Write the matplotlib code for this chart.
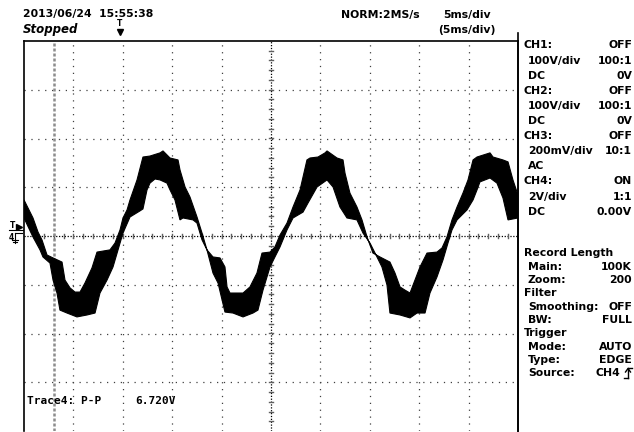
import matplotlib
matplotlib.use("Agg")
import matplotlib.pyplot as plt
from matplotlib.lines import Line2D
import numpy as np

# CH4 waveform: upper and lower edge of the noisy band
# time in ms (5 ms/div), voltage in V (2 V/div)
t_upper = [0.0, 0.91, 1.42, 1.82, 2.33, 2.94, 3.85, 4.15, 4.66, 5.16,
           5.67, 6.17, 6.88, 7.39, 8.70, 9.21, 9.72, 10.02, 10.43, 10.73,
           11.44, 12.04, 12.75, 13.77, 14.07, 14.78, 15.59, 15.79, 16.30, 16.80,
           17.51, 18.02, 18.52, 19.13, 19.84, 20.34, 20.55, 20.85, 22.17, 22.87,
           23.58, 24.09, 24.90, 25.40, 25.91, 26.62, 27.23, 27.94, 28.64, 28.95,
           29.76, 30.47, 30.67, 31.68, 32.29, 32.49, 32.99, 33.70, 34.21, 34.72,
           35.32, 36.03, 37.04, 37.55, 38.06, 38.56, 39.07, 39.57, 40.08, 40.79,
           41.80, 42.31, 42.81, 43.32, 43.83, 44.43, 44.94, 45.45, 45.85, 47.17,
           47.47, 48.48, 48.99, 49.49, 50.0]
v_upper = [1.48, 0.74, 0.16, -0.16, -0.78, -0.90, -1.07, -1.81, -2.13, -2.30,
           -2.30, -1.93, -1.31, -0.66, -0.57, -0.29, 0.25, 0.74, 1.07, 1.48,
           2.30, 3.24, 3.28, 3.41, 3.49, 3.20, 3.12, 2.71, 2.01, 1.60,
           0.78, 0.12, -0.57, -0.86, -0.90, -1.27, -2.09, -2.34, -2.34, -2.09,
           -1.52, -0.70, -0.66, -0.45, 0.04, 0.53, 1.19, 1.89, 3.12, 3.20,
           3.24, 3.41, 3.49, 3.20, 3.12, 2.58, 1.76, 1.19, 0.66, -0.04,
           -0.70, -0.86, -1.07, -1.52, -2.09, -2.22, -2.34, -1.81, -1.27, -0.70,
           -0.66, -0.49, -0.04, 0.66, 1.19, 1.76, 2.30, 3.12, 3.24, 3.41,
           3.24, 3.12, 3.04, 2.30, 1.68]
t_lower = [0.0, 0.91, 1.62, 1.92, 2.63, 2.94, 3.34, 3.64, 4.35, 5.36,
           6.38, 7.19, 7.69, 8.40, 9.01, 9.72, 10.02, 10.73, 11.74, 12.04,
           12.45, 12.75, 13.26, 13.77, 14.47, 14.78, 15.28, 15.79, 16.09, 17.11,
           17.51, 18.02, 18.52, 19.13, 19.64, 20.34, 21.15, 22.17, 23.18, 23.68,
           24.19, 24.90, 25.40, 25.91, 26.62, 27.23, 28.24, 28.74, 29.66, 30.67,
           31.28, 31.98, 32.69, 33.70, 34.31, 35.02, 35.53, 36.23, 36.74, 37.04,
           38.06, 39.07, 39.78, 40.59, 41.09, 41.80, 42.41, 42.91, 43.32, 43.83,
           44.84, 45.45, 45.85, 46.15, 47.17, 47.87, 48.48, 48.99, 50.0]
v_lower = [0.74, -0.04, -0.57, -0.86, -1.11, -1.81, -2.34, -3.04, -3.16, -3.32,
           -3.24, -3.16, -2.34, -1.81, -1.27, -0.29, 0.12, 0.78, 1.03, 1.11,
           1.89, 2.17, 2.34, 2.30, 2.17, 1.89, 1.48, 0.66, 0.74, 0.66,
           0.53, -0.16, -0.57, -1.52, -1.93, -3.12, -3.16, -3.32, -3.16, -3.04,
           -2.22, -1.27, -0.86, -0.45, 0.25, 0.74, 0.98, 1.35, 2.01, 2.30,
           2.01, 1.19, 0.74, 0.66, 0.12, -0.29, -0.70, -1.27, -2.01, -3.16,
           -3.24, -3.36, -3.16, -3.16, -2.34, -1.68, -0.98, -0.29, 0.25, 0.66,
           1.07, 1.48, 1.89, 2.22, 2.38, 2.17, 1.56, 0.66, 0.74]

cursor_t = 3.07  # vertical cursor position, ms

header_left = ["2013/06/24  15:55:38", "Stopped"]
header_right = ["NORM:2MS/s", "5ms/div", "(5ms/div)"]
measure_label = "Trace4: P-P"
measure_value = "6.720V"

# side panel: (label, value, is_heading)
panel_top = [("CH1:", "OFF", True), ("100V/div", "100:1", False), ("DC", "0V", False),
             ("CH2:", "OFF", True), ("100V/div", "100:1", False), ("DC", "0V", False),
             ("CH3:", "OFF", True), ("200mV/div", "10:1", False), ("AC", "", False),
             ("CH4:", "ON", True), ("2V/div", "1:1", False), ("DC", "0.00V", False)]
panel_bottom = [("Record Length", "", True), ("Main:", "100K", False), ("Zoom:", "200", False),
                ("Filter", "", True), ("Smoothing:", "OFF", False), ("BW:", "FULL", False),
                ("Trigger", "", True), ("Mode:", "AUTO", False), ("Type:", "EDGE", False),
                ("Source:", "CH4", False)]

W, H = 634, 432
fig = plt.figure(figsize=(W / 100, H / 100), dpi=100)
fig.patch.set_facecolor("white")


def fx(x):
    return x / W


def fy(y):
    return 1 - y / H


def fline(xs, ys, **kw):
    fig.add_artist(Line2D([fx(x) for x in xs], [fy(y) for y in ys],
                          transform=fig.transFigure, **kw))


# screen area: 10 x 8 divisions
ax = fig.add_axes([fx(24), fy(431), (518 - 24) / W, 390 / H])
ax.set_xlim(0, 50)
ax.set_ylim(-8, 8)
ax.set_xticks([])
ax.set_yticks([])
for s in ["left", "right", "top"]:
    ax.spines[s].set_color("black")
    ax.spines[s].set_linewidth(1.2)
ax.spines["bottom"].set_visible(False)

# dotted grid
for t in np.arange(5, 50, 5):
    if t != 25:
        ax.axvline(t, color="#404040", lw=0.9, ls=(0, (1, 4.5)), zorder=1)
for v in np.arange(-6, 8, 2):
    if v != 0:
        ax.axhline(v, color="#404040", lw=0.9, ls=(0, (1, 4.5)), zorder=1)

# center cross with fine ticks
ax.axhline(0, color="black", lw=0.9, ls=(0, (1, 1.3)), zorder=1)
ax.axvline(25, color="black", lw=0.9, ls=(0, (1, 1.3)), zorder=1)
for t in np.arange(1, 50, 1):
    ax.plot([t, t], [-0.1, 0.1], color="#606060", lw=1.0, zorder=1)
for v in np.arange(-7.6, 8, 0.4):
    ax.plot([24.75, 25.25], [v, v], color="#606060", lw=1.0, zorder=1)

# cursor
ax.axvline(cursor_t, color="#8c8c8c", lw=1.8, ls=(0, (1.2, 0.8)), zorder=1)

# waveform band
poly_t = np.concatenate([t_upper, t_lower[::-1]])
poly_v = np.concatenate([v_upper, v_lower[::-1]])
ax.fill(poly_t, poly_v, color="black", lw=0.8, ec="black", zorder=3)

ax.text(0.3, -6.75, measure_label, family="DejaVu Sans Mono", weight="bold",
        fontsize=8.0, va="center", zorder=4)
ax.text(11.3, -6.75, measure_value, family="DejaVu Sans Mono", weight="bold",
        fontsize=8.0, va="center", zorder=4)

# header texts
font = dict(family="DejaVu Sans", weight="bold", fontsize=7.8)
fig.text(fx(23), fy(14), header_left[0], va="center", **font)
fig.text(fx(23), fy(30), header_left[1], va="center", style="italic",
         family="DejaVu Sans", weight="bold", fontsize=8.5)
fig.text(fx(341), fy(15), header_right[0], va="center", **font)
fig.text(fx(443), fy(15), header_right[1], va="center", **font)
fig.text(fx(438), fy(30), header_right[2], va="center", **font)

# trigger position marker on top
fig.text(fx(120), fy(24), "T", ha="center", va="center", family="DejaVu Sans",
         weight="bold", fontsize=5.5)
fig.add_artist(Line2D([fx(120)], [fy(31.5)], marker="v", color="black",
                      markersize=5, transform=fig.transFigure))

# trigger level and ground markers on the left
fig.text(fx(10), fy(225), "T", ha="left", va="center", family="DejaVu Sans",
         weight="bold", fontsize=5.5)
fig.add_artist(Line2D([fx(19)], [fy(227)], marker=">", color="black",
                      markersize=4, transform=fig.transFigure))
fline([9, 23], [230, 230], color="black", lw=0.8)
fig.text(fx(9), fy(237), "4", ha="left", va="center", family="DejaVu Sans",
         weight="bold", fontsize=5.5)
fline([15, 15], [233, 243], color="black", lw=0.8)
fline([15, 22], [233, 233], color="black", lw=0.8)
fline([12, 18], [240, 240], color="black", lw=0.8)
fline([13, 17], [242, 242], color="black", lw=0.8)

# side panel
fline([518, 518], [33, 432], color="black", lw=1.2)
for i, (lab, val, head) in enumerate(panel_top):
    y = 45.5 + i * 15.1
    fig.text(fx(524 if head else 528), fy(y), lab, va="center", **font)
    if val:
        fig.text(fx(632), fy(y), val, ha="right", va="center", **font)
for i, (lab, val, head) in enumerate(panel_bottom):
    y = 253.5 + i * 13.3
    fig.text(fx(524 if head else 528), fy(y), lab, va="center", **font)
    if val:
        xr = 620 if lab == "Source:" else 632
        fig.text(fx(xr), fy(y), val, ha="right", va="center", **font)

# rising edge symbol next to the trigger source
fline([624, 628], [378, 378], color="black", lw=1.0)
fline([628, 628], [378, 368], color="black", lw=1.0)
fline([628, 632], [368, 368], color="black", lw=1.0)
fline([625.5, 628, 630.5], [372, 368.5, 372], color="black", lw=1.0)

fig.savefig("out.png", dpi=100, facecolor="white")
